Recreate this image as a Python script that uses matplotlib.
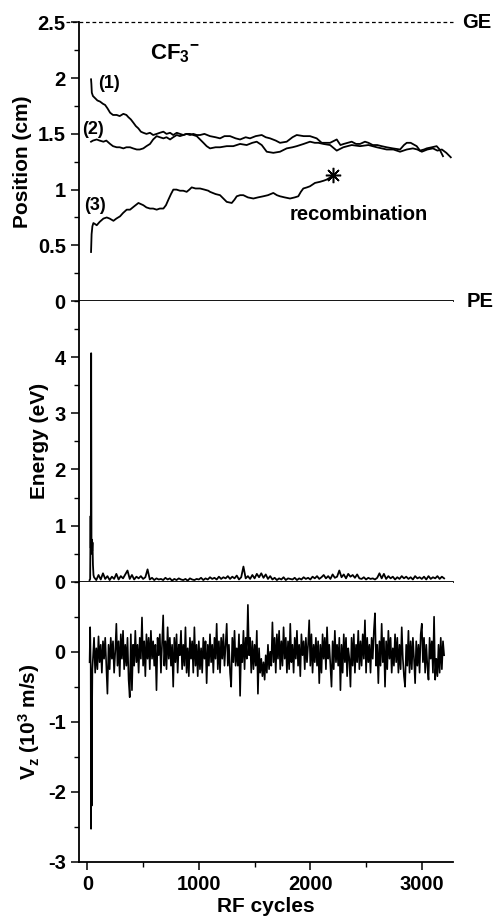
import matplotlib
matplotlib.use("Agg")
import matplotlib.pyplot as plt
import numpy as np
from matplotlib.ticker import MultipleLocator, FormatStrFormatter

plt.rcParams['font.family'] = ['Liberation Sans', 'DejaVu Sans']
plt.rcParams['font.weight'] = 'bold'
plt.rcParams['axes.labelweight'] = 'bold'
plt.rcParams['axes.unicode_minus'] = False
plt.rcParams['mathtext.fontset'] = 'custom'
plt.rcParams['mathtext.rm'] = 'Liberation Sans:bold'
plt.rcParams['mathtext.bf'] = 'Liberation Sans:bold'
plt.rcParams['mathtext.it'] = 'Liberation Sans:bold'
plt.rcParams['mathtext.default'] = 'bf'

# position traces (RF cycle, cm)
t1_x = [33, 36, 40, 50, 70, 90, 114, 140, 159, 180,
        204, 230, 263, 290, 323, 350, 368, 390, 413, 435,
        457, 480, 502, 530, 562, 590, 622, 650, 682, 710,
        742, 770, 802, 830, 861, 890, 921, 950, 981, 1011,
        1041, 1070, 1100, 1150, 1190, 1250, 1309, 1370, 1429, 1480,
        1519, 1564, 1609, 1668, 1728, 1788, 1840, 1878, 1940, 1997,
        2040, 2072, 2117, 2177, 2237, 2296, 2371, 2446, 2521, 2596,
        2685, 2745, 2805, 2865, 2920, 2960, 3000, 3050, 3100, 3140,
        3180, 3220, 3260]
t1_y = [1.99, 1.95, 1.87, 1.84, 1.82, 1.80, 1.79, 1.77, 1.76, 1.73,
        1.69, 1.67, 1.67, 1.66, 1.68, 1.67, 1.65, 1.63, 1.60, 1.57,
        1.55, 1.52, 1.51, 1.50, 1.51, 1.49, 1.50, 1.51, 1.52, 1.50,
        1.51, 1.49, 1.51, 1.50, 1.49, 1.50, 1.50, 1.49, 1.48, 1.45,
        1.42, 1.39, 1.37, 1.38, 1.38, 1.39, 1.39, 1.41, 1.40, 1.42,
        1.43, 1.40, 1.34, 1.33, 1.34, 1.37, 1.38, 1.39, 1.41, 1.43,
        1.42, 1.42, 1.41, 1.40, 1.35, 1.38, 1.40, 1.39, 1.40, 1.38,
        1.36, 1.36, 1.34, 1.36, 1.37, 1.36, 1.34, 1.36, 1.37, 1.35,
        1.36, 1.33, 1.29]

t2_x = [33, 50, 84, 110, 144, 170, 204, 230, 263, 290,
        323, 350, 383, 410, 443, 470, 502, 530, 562, 590,
        622, 650, 682, 710, 742, 770, 802, 830, 861, 890,
        921, 950, 981, 1011, 1050, 1100, 1150, 1190, 1230, 1280,
        1330, 1370, 1420, 1459, 1510, 1564, 1600, 1639, 1690, 1728,
        1788, 1840, 1878, 1940, 1997, 2057, 2102, 2177, 2237, 2270,
        2300, 2371, 2410, 2446, 2490, 2521, 2560, 2600, 2640, 2685,
        2740, 2805, 2840, 2865, 2900, 2954, 2984, 3020, 3044, 3090,
        3133, 3160, 3190]
t2_y = [1.43, 1.44, 1.45, 1.44, 1.43, 1.44, 1.41, 1.39, 1.38, 1.38,
        1.37, 1.38, 1.38, 1.37, 1.36, 1.36, 1.37, 1.39, 1.41, 1.45,
        1.48, 1.47, 1.46, 1.47, 1.45, 1.47, 1.49, 1.48, 1.49, 1.50,
        1.49, 1.50, 1.49, 1.49, 1.50, 1.48, 1.47, 1.46, 1.48, 1.48,
        1.46, 1.45, 1.47, 1.46, 1.48, 1.49, 1.47, 1.46, 1.44, 1.42,
        1.43, 1.47, 1.49, 1.48, 1.48, 1.46, 1.42, 1.42, 1.45, 1.40,
        1.41, 1.43, 1.41, 1.41, 1.43, 1.42, 1.40, 1.40, 1.39, 1.38,
        1.37, 1.36, 1.40, 1.42, 1.42, 1.39, 1.35, 1.36, 1.37, 1.38,
        1.39, 1.36, 1.30]

t3_x = [33, 38, 45, 54, 70, 84, 110, 144, 174, 200,
        234, 260, 293, 320, 353, 383, 420, 458, 480, 502,
        530, 562, 590, 622, 650, 682, 705, 727, 750, 771,
        800, 831, 860, 891, 915, 936, 970, 1011, 1050, 1085,
        1100, 1150, 1190, 1220, 1250, 1295, 1320, 1340, 1370, 1399,
        1440, 1489, 1530, 1578, 1620, 1668, 1700, 1728, 1770, 1818,
        1860, 1892, 1915, 1937, 1970, 1997, 2042, 2087, 2120, 2147,
        2180, 2201]
t3_y = [0.44, 0.60, 0.67, 0.70, 0.69, 0.68, 0.71, 0.74, 0.75, 0.74,
        0.72, 0.74, 0.76, 0.79, 0.82, 0.82, 0.85, 0.88, 0.87, 0.86,
        0.84, 0.83, 0.83, 0.82, 0.83, 0.83, 0.86, 0.91, 0.96, 1.00,
        1.00, 0.99, 0.99, 0.98, 1.00, 1.02, 1.01, 1.01, 1.00, 0.99,
        0.98, 0.96, 0.95, 0.92, 0.89, 0.88, 0.91, 0.94, 0.95, 0.95,
        0.93, 0.92, 0.93, 0.94, 0.95, 0.97, 0.95, 0.94, 0.93, 0.92,
        0.93, 0.94, 0.98, 1.01, 1.02, 1.03, 1.06, 1.07, 1.08, 1.09,
        1.11, 1.13]

# energy (eV): initial kick, then every 20 cycles
e_start_x = [20, 25, 29, 31, 34, 37, 40, 43, 46, 50, 55]
e_start = [0.03, 0.05, 1.17, 0.6, 4.07, 0.5, 0.75, 0.55, 0.7, 0.3, 0.12]
e_x = np.arange(60, 3201, 20)
e_vals = [0.08, 0.03, 0.12, 0.04, 0.15, 0.05, 0.10, 0.03, 0.09, 0.05,
          0.14, 0.04, 0.10, 0.06, 0.13, 0.20, 0.05, 0.12, 0.04, 0.09,
          0.06, 0.10, 0.05, 0.08, 0.22, 0.04, 0.07, 0.03, 0.06, 0.04,
          0.05, 0.03, 0.07, 0.04, 0.06, 0.02, 0.05, 0.03, 0.06, 0.04,
          0.03, 0.05, 0.02, 0.06, 0.04, 0.03, 0.05, 0.04, 0.07, 0.03,
          0.06, 0.04, 0.08, 0.05, 0.07, 0.04, 0.09, 0.05, 0.08, 0.06,
          0.10, 0.05, 0.09, 0.06, 0.11, 0.04, 0.08, 0.27, 0.06, 0.10,
          0.05, 0.12, 0.06, 0.14, 0.08, 0.15, 0.07, 0.13, 0.05, 0.10,
          0.04, 0.07, 0.03, 0.06, 0.04, 0.08, 0.03, 0.06, 0.05, 0.04,
          0.07, 0.03, 0.06, 0.04, 0.08, 0.05, 0.07, 0.04, 0.09, 0.06,
          0.10, 0.05, 0.08, 0.12, 0.06, 0.10, 0.05, 0.13, 0.07, 0.09,
          0.20, 0.08, 0.13, 0.06, 0.14, 0.09, 0.12, 0.07, 0.13, 0.06,
          0.05, 0.08, 0.04, 0.07, 0.05, 0.06, 0.04, 0.07, 0.15, 0.06,
          0.14, 0.05, 0.10, 0.06, 0.09, 0.04, 0.08, 0.05, 0.10, 0.06,
          0.09, 0.05, 0.08, 0.04, 0.10, 0.06, 0.08, 0.05, 0.09, 0.04,
          0.10, 0.05, 0.08, 0.06, 0.10, 0.05, 0.09, 0.06]

# Vz (10^3 m/s): initial kick, then every 10 cycles
vz_start_x = [20, 25, 30, 33, 36, 39, 42, 45]
vz_start = [-0.15, 0.35, -0.2, -2.53, -0.5, -2.2, -0.9, -0.25]
vz_x = np.arange(50, 3201, 10)
vz_vals = [-0.10, 0.20, -0.30, 0.05, -0.25, 0.22, -0.15, 0.10, -0.30, 0.15,
           -0.10, 0.20, -0.20, -0.60, 0.10, -0.25, 0.20, -0.10, 0.15, -0.30,
           0.00, 0.40, -0.20, 0.15, -0.35, 0.25, -0.10, 0.30, -0.25, 0.10,
           -0.20, 0.20, -0.40, -0.65, 0.25, -0.55, 0.10, -0.20, 0.30, -0.15,
           0.10, -0.30, 0.20, -0.10, 0.49, -0.20, 0.15, -0.35, 0.25, -0.10,
           0.20, -0.25, 0.30, -0.10, 0.15, -0.20, 0.10, -0.55, 0.20, -0.05,
           0.25, -0.30, 0.10, 0.52, -0.20, 0.15, -0.25, 0.35, -0.10, 0.20,
           -0.20, 0.10, -0.50, 0.20, -0.15, 0.25, -0.30, 0.10, -0.05, 0.30,
           -0.25, 0.10, -0.20, 0.35, -0.30, 0.05, -0.35, 0.20, -0.10, 0.15,
           -0.30, 0.35, -0.20, 0.10, -0.35, 0.15, -0.25, 0.05, -0.30, 0.20,
           -0.10, 0.15, -0.45, 0.10, -0.20, 0.25, -0.15, 0.10, -0.30, 0.20,
           -0.10, 0.40, -0.25, 0.15, -0.30, 0.20, -0.10, 0.25, -0.20, 0.10,
           0.40, -0.20, 0.10, -0.30, -0.50, 0.20, -0.15, 0.30, -0.20, 0.05,
           -0.20, 0.25, -0.63, 0.10, -0.15, 0.30, -0.25, 0.20, -0.10, 0.67,
           -0.05, 0.20, -0.30, 0.15, -0.25, 0.10, -0.20, 0.30, -0.60, 0.05,
           -0.30, -0.10, -0.35, -0.15, -0.40, -0.05, -0.30, 0.10, -0.25, 0.00,
           -0.20, 0.42, -0.15, 0.20, -0.30, 0.25, -0.10, 0.30, -0.25, 0.15,
           -0.20, 0.35, -0.10, 0.20, -0.30, 0.15, -0.25, 0.40, -0.15, 0.10,
           -0.30, 0.20, -0.10, 0.30, -0.20, 0.10, -0.35, 0.25, -0.05, 0.15,
           -0.25, 0.20, -0.15, 0.10, 0.45, -0.20, 0.25, -0.30, 0.10, -0.15,
           0.20, -0.20, 0.15, -0.45, 0.10, -0.30, 0.25, -0.10, 0.20, -0.25,
           0.35, -0.10, 0.10, -0.20, -0.50, 0.15, -0.25, 0.30, -0.15, 0.10,
           -0.20, 0.20, -0.55, 0.10, -0.30, 0.25, -0.15, 0.20, -0.35, 0.05,
           -0.10, -0.50, 0.20, -0.20, 0.25, -0.30, 0.10, -0.15, 0.30, -0.25,
           0.15, -0.20, 0.25, -0.10, 0.45, -0.30, 0.20, -0.15, 0.10, -0.30,
           0.20, -0.10, 0.30, 0.55, -0.20, 0.10, -0.45, 0.15, -0.20, 0.40,
           -0.15, 0.20, -0.50, 0.15, -0.25, 0.30, -0.10, 0.20, -0.30, 0.05,
           -0.20, 0.25, -0.15, 0.20, -0.30, 0.10, -0.25, 0.35, -0.10, -0.35,
           -0.50, 0.10, -0.20, 0.30, -0.30, 0.15, -0.25, 0.20, -0.10, -0.45,
           0.15, -0.20, 0.10, -0.30, 0.25, 0.40, -0.15, 0.20, -0.30, 0.10,
           -0.20, -0.40, 0.20, -0.10, 0.15, -0.30, 0.50, -0.40, -0.10, -0.35,
           0.10, -0.30, 0.20, -0.25, 0.15, -0.05]

fig = plt.figure(figsize=(4.95, 9.18), dpi=100)
ax1 = fig.add_axes([0.1596, 0.6721, 0.7556, 0.3034])
ax2 = fig.add_axes([0.1596, 0.3663, 0.7556, 0.3058])
ax3 = fig.add_axes([0.1596, 0.0613, 0.7556, 0.3050])

for ax in (ax1, ax2, ax3):
    ax.spines['top'].set_visible(False)
    ax.spines['right'].set_visible(False)
    for s in ('left', 'bottom'):
        ax.spines[s].set_linewidth(1.3)
    ax.set_xlim(-75, 3280)
    ax.xaxis.set_major_locator(MultipleLocator(1000))
    ax.xaxis.set_minor_locator(MultipleLocator(500))
    ax.tick_params(which='major', direction='out', length=6, width=1.1, labelsize=14.5)
    ax.tick_params(which='minor', direction='out', length=3.5, width=1.0)

ax1.tick_params(labelbottom=False)
ax2.tick_params(labelbottom=False)

# position panel
ax1.plot(t1_x, t1_y, color='k', lw=1.3)
ax1.plot(t2_x, t2_y, color='k', lw=1.3)
ax1.plot(t3_x, t3_y, color='k', lw=1.3)
ax1.plot([t3_x[-1]], [t3_y[-1]], ls='none', marker=(8, 2, 0), ms=11, mew=1.1, color='k')
ax1.axhline(2.5, xmin=-0.035, color='k', lw=0.9, ls=(0, (3, 2.2)), clip_on=False)
ax1.set_ylim(0, 2.5)
ax1.yaxis.set_major_locator(MultipleLocator(0.5))
ax1.yaxis.set_minor_locator(MultipleLocator(0.25))
ax1.yaxis.set_major_formatter(FormatStrFormatter('%g'))
ax1.set_ylabel('Position (cm)', fontsize=15)
ax1.text(190, 1.95, '(1)', fontsize=13, ha='center', va='center')
ax1.text(51, 1.54, '(2)', fontsize=13, ha='center', va='center')
ax1.text(70, 0.86, '(3)', fontsize=13, ha='center', va='center')
ax1.text(562, 2.165, r'CF$_{3}{}^{-}$', fontsize=16, ha='left', va='baseline')
ax1.text(1817, 0.73, 'recombination', fontsize=14.5, ha='left', va='baseline')
ax1.text(1.024, 1.0, 'GE', transform=ax1.transAxes, fontsize=14.5, ha='left', va='center')
ax1.text(1.037, 0.0, 'PE', transform=ax1.transAxes, fontsize=14.5, ha='left', va='center')

# energy panel
ax2.plot(np.concatenate([e_start_x, e_x]), np.concatenate([e_start, e_vals]), color='k', lw=1.3)
ax2.set_ylim(0, 5)
ax2.set_yticks([0, 1, 2, 3, 4])
ax2.yaxis.set_minor_locator(MultipleLocator(0.5))
ax2.set_ylabel('Energy (eV)', fontsize=15)

# velocity panel
ax3.plot(np.concatenate([vz_start_x, vz_x]), np.concatenate([vz_start, vz_vals]), color='k', lw=1.2)
ax3.set_ylim(-3, 1)
ax3.set_yticks([-3, -2, -1, 0])
ax3.yaxis.set_minor_locator(MultipleLocator(0.5))
ax3.set_ylabel(r'V$_z$ (10$^3$ m/s)', fontsize=15)
ax3.set_xlabel('RF cycles', fontsize=15, labelpad=2)

fig.savefig('out.png', dpi=100)
